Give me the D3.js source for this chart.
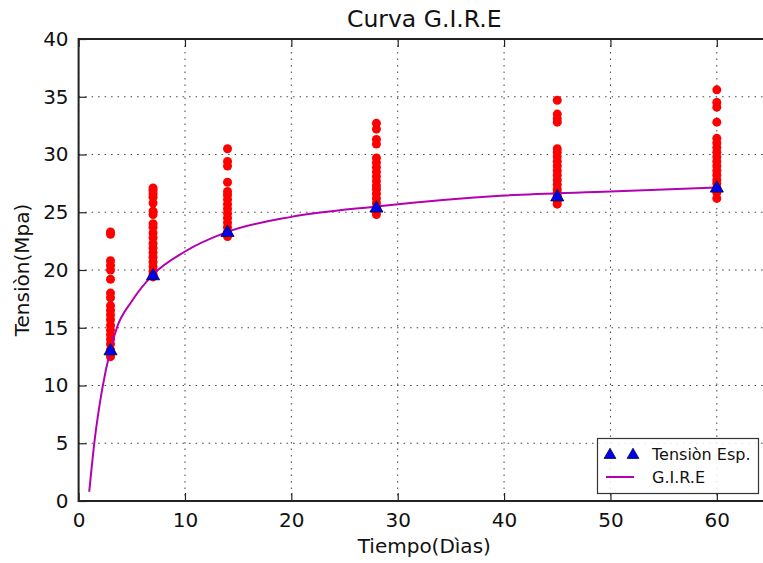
<!DOCTYPE html>
<html>
<head>
<meta charset="utf-8">
<script src="https://cdn.jsdelivr.net/npm/d3@7"></script>
<style>
  html, body { margin: 0; padding: 0; background: #fff; }
  svg { display: block; font-family: "DejaVu Sans", sans-serif; }
</style>
</head>
<body>
<svg id="chart" width="763" height="563"></svg>
<script>
// ---- data ----
const edades = [3, 7, 14, 28, 45, 60];                 // Tiempo (días)
const tensionEsp = [13.07, 19.57, 23.32, 25.43, 26.4, 27.16];
const ensayos3  = [23.3, 23.1, 20.8, 20.4, 20.0, 19.2, 18.0, 17.6, 16.9, 16.5, 16.1, 15.7, 15.2, 14.8, 14.4, 14.0, 13.6, 13.1, 12.8, 12.5];
const ensayos7  = [27.1, 26.9, 26.6, 26.3, 25.8, 25.1, 24.8, 24.0, 23.7, 23.2, 22.8, 22.3, 21.9, 21.5, 21.1, 20.7, 20.3, 19.9, 19.6, 19.4];
const ensayos14 = [30.5, 29.4, 29.0, 27.6, 26.8, 26.5, 26.1, 25.7, 25.3, 24.9, 24.5, 24.1, 23.7, 23.3, 22.9];
const ensayos28 = [32.7, 32.2, 31.3, 30.9, 29.7, 29.3, 28.9, 28.5, 28.1, 27.7, 27.3, 27.0, 26.6, 26.2, 25.8, 25.4, 25.1, 24.8];
const ensayos45 = [34.7, 33.5, 33.1, 32.8, 30.5, 30.2, 29.8, 29.4, 29.0, 28.6, 28.2, 27.8, 27.4, 27.0, 26.7, 26.4, 26.0, 25.7];
const ensayos60 = [35.6, 34.5, 34.1, 32.8, 31.4, 31.0, 30.6, 30.2, 29.8, 29.4, 29.0, 28.6, 28.2, 27.8, 27.5, 27.1, 26.7, 26.2];
const ensayos = [ensayos3, ensayos7, ensayos14, ensayos28, ensayos45, ensayos60];
const gireT = [1, 1.5, 2.2, 3, 3.6, 5, 7, 10, 14, 20, 28, 40, 50, 60];
const gireV = [0.8, 5.2, 9.6, 13.1, 15.0, 17.3, 19.6, 21.6, 23.3, 24.6, 25.5, 26.45, 26.8, 27.15];
const xTicks = [0, 10, 20, 30, 40, 50, 60];
const yTicks = [0, 5, 10, 15, 20, 25, 30, 35, 40];
const titulo = "Curva G.I.R.E";
const xLabel = "Tiempo(Dìas)";
const yLabel = "Tensiòn(Mpa)";
const leyenda = ["Tensiòn Esp.", "G.I.R.E"];

// ---- layout ----
const svg = d3.select("#chart");
const L = 78.6, R = 770, T = 39, B = 501;
const x = d3.scaleLinear().domain([0, 65]).range([L, R]);
const y = d3.scaleLinear().domain([0, 40]).range([B, T]);

// grid
const grid = svg.append("g");
grid.selectAll("line.gx").data(xTicks).join("line")
  .attr("x1", d => x(d)).attr("x2", d => x(d)).attr("y1", T).attr("y2", B)
  .attr("stroke", "#444").attr("stroke-width", 1).attr("stroke-dasharray", "1.5,5");
grid.selectAll("line.gy").data(yTicks).join("line")
  .attr("y1", d => y(d)).attr("y2", d => y(d)).attr("x1", L).attr("x2", R)
  .attr("stroke", "#444").attr("stroke-width", 1).attr("stroke-dasharray", "1.5,5");

// red test points
const pts = [];
edades.forEach((t, i) => ensayos[i].forEach(v => pts.push([t, v])));
svg.append("g").selectAll("circle").data(pts).join("circle")
  .attr("cx", d => x(d[0])).attr("cy", d => y(d[1])).attr("r", 4.5)
  .attr("fill", "#ff0000");

// GIRE curve
const line = d3.line().x(d => x(d[0])).y(d => y(d[1])).curve(d3.curveMonotoneX);
svg.append("path").datum(gireT.map((t, i) => [t, gireV[i]]))
  .attr("d", line).attr("fill", "none").attr("stroke", "#b300b3").attr("stroke-width", 2);

// triangles
const tri = d3.symbol().type(d3.symbolTriangle).size(75);
svg.append("g").selectAll("path").data(edades).join("path")
  .attr("d", tri)
  .attr("transform", (d, i) => `translate(${x(d)},${y(tensionEsp[i]) + 1})`)
  .attr("fill", "#0000ee").attr("stroke", "#000033").attr("stroke-width", 0.8);

// axes (ticks inward, both sides)
const ax = svg.append("g");
ax.append("g").attr("transform", `translate(0,${B})`)
  .call(d3.axisBottom(x).tickValues(xTicks).tickSizeInner(-8).tickSizeOuter(0).tickPadding(12).tickFormat(d3.format("d")));
ax.append("g").attr("transform", `translate(0,${T})`)
  .call(d3.axisTop(x).tickValues(xTicks).tickSizeInner(-8).tickSizeOuter(0).tickFormat(""));
ax.append("g").attr("transform", `translate(${L},0)`)
  .call(d3.axisLeft(y).tickValues(yTicks).tickSizeInner(-8).tickSizeOuter(0).tickPadding(10).tickFormat(d3.format("d")));
ax.selectAll(".domain").remove();
ax.selectAll(".tick line").attr("stroke", "#222").attr("stroke-width", 1.2);
ax.selectAll(".tick text").attr("font-family", "DejaVu Sans").attr("font-size", 20).attr("fill", "#111");

// spines
svg.append("rect").attr("x", L).attr("y", T).attr("width", R - L).attr("height", B - T)
  .attr("fill", "none").attr("stroke", "#222").attr("stroke-width", 2);

// title & labels
svg.append("text").attr("x", (L + R) / 2).attr("y", 27).attr("text-anchor", "middle")
  .attr("font-size", 23.5).attr("fill", "#111").text(titulo);
svg.append("text").attr("x", (L + R) / 2).attr("y", 553).attr("text-anchor", "middle")
  .attr("font-size", 20).attr("fill", "#111").text(xLabel);
svg.append("text").attr("transform", `translate(29,${(T + B) / 2}) rotate(-90)`)
  .attr("text-anchor", "middle").attr("font-size", 20).attr("fill", "#111").text(yLabel);

// legend
const lg = svg.append("g");
lg.append("rect").attr("x", 597.5).attr("y", 438.5).attr("width", 161).attr("height", 55)
  .attr("fill", "#fff").attr("fill-opacity", 0.85).attr("stroke", "#333").attr("stroke-width", 1.2);
const triL = d3.symbol().type(d3.symbolTriangle).size(60);
[610, 633].forEach(px => lg.append("path").attr("d", triL)
  .attr("transform", `translate(${px},455)`)
  .attr("fill", "#0000ee").attr("stroke", "#000033").attr("stroke-width", 0.8));
lg.append("line").attr("x1", 606).attr("x2", 634).attr("y1", 477).attr("y2", 477)
  .attr("stroke", "#b300b3").attr("stroke-width", 2);
lg.selectAll("text").data(leyenda).join("text")
  .attr("x", 652).attr("y", (d, i) => 460 + i * 23)
  .attr("font-size", 16).attr("fill", "#111").text(d => d);
</script>
</body>
</html>
